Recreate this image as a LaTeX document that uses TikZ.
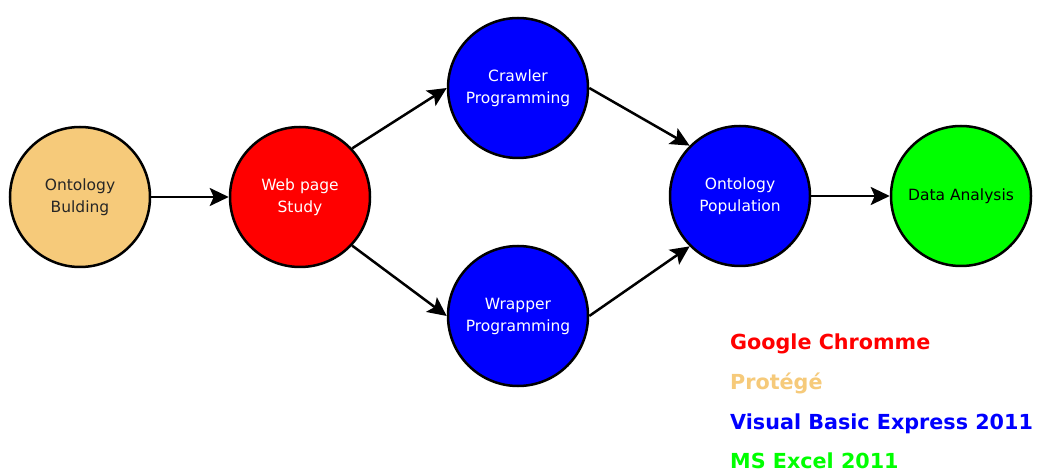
\documentclass[tikz,border=0pt]{standalone}
\usepackage{fontspec}
\setmainfont{DejaVu Sans}
\usetikzlibrary{arrows.meta}
\definecolor{sand}{RGB}{246,202,122}
\definecolor{pureblue}{RGB}{0,0,255}
\definecolor{purered}{RGB}{255,0,0}
\definecolor{puregreen}{RGB}{0,255,0}
\begin{document}
\begin{tikzpicture}[x=1pt,y=-1pt,
  stage/.style={circle, draw=black, line width=2.5pt, minimum size=140pt,
    inner sep=0pt, align=center, font=\fontsize{15.5}{22}\selectfont},
  flow/.style={line width=2.5pt, -{Stealth[length=19pt,width=18pt,inset=4pt]}},
  tool/.style={anchor=base west, inner sep=0pt, font=\bfseries\fontsize{20.7}{24}\selectfont}]
\useasboundingbox[fill=white] (0,0) rectangle (1045,473);

% process stages
\node[stage, fill=sand, text=black!85] (build) at (80,197) {Ontology\\Bulding};
\node[stage, fill=purered, text=white] (web) at (300,197) {Web page\\Study};
\node[stage, fill=pureblue, text=white] (crawl) at (518,88) {Crawler\\Programming};
\node[stage, fill=pureblue, text=white] (wrap) at (518,316) {Wrapper\\Programming};
\node[stage, fill=pureblue, text=white] (pop) at (740,196) {Ontology\\Population};
\node[stage, fill=puregreen, text=black] (data) at (961,196) {Data Analysis};

% flow between stages
\draw[flow] (build.east) -- (web.west);
\draw[flow] (web.43) -- (crawl.west);
\draw[flow] (web.-43) -- (wrap.west);
\draw[flow] (crawl.east) -- (pop.135);
\draw[flow] (wrap.east) -- (pop.-135);
\draw[flow] (pop.east) -- (data.west);

% tools used
\node[tool, text=purered] (t1) at (730,349) {Google Chromme};
\node[tool, text=sand] (t2) at (730,389) {Protégé};
\node[tool, text=pureblue] (t3) at (730,429) {Visual Basic Express 2011};
\node[tool, text=puregreen] (t4) at (730,468) {MS Excel 2011};
\end{tikzpicture}
\end{document}
